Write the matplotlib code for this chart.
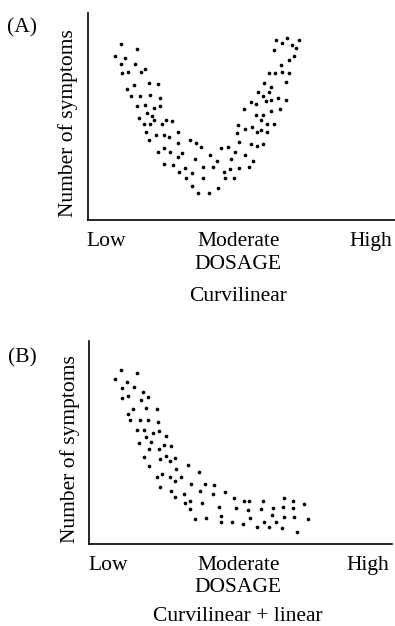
import matplotlib
matplotlib.use("Agg")
import matplotlib.pyplot as plt

plt.rcParams["font.family"] = ["Liberation Serif", "DejaVu Serif"]

# Dosage level (0-100) and number of symptoms (0-100) for each observation
dose_a = [10.9, 16.0, 9.0, 12.2, 11.0, 15.5, 18.6, 11.1, 13.3, 17.3,
          19.9, 23.0, 15.1, 12.7, 14.2, 17.0, 20.3, 23.7, 16.1, 18.6,
          21.6, 23.5, 19.4, 20.9, 16.8, 21.7, 25.4, 27.4, 18.5, 20.3,
          24.1, 19.0, 22.3, 24.8, 26.5, 29.3, 20.1, 29.3, 33.4, 35.4,
          36.9, 24.9, 22.8, 26.8, 30.6, 29.3, 39.7, 35.1, 24.8, 27.8,
          31.6, 37.6, 29.7, 33.9, 32.1, 37.7, 33.9, 35.9, 39.4,
          61.3, 63.3, 64.9, 68.7, 66.4, 67.9, 60.6, 67.1, 65.5, 62.9,
          59.1, 61.0, 63.3, 65.6, 64.7, 57.3, 59.8, 55.4, 58.9, 57.2,
          62.0, 64.6, 53.2, 54.7, 58.0, 59.8, 51.0, 62.6, 54.7, 57.2,
          59.6, 56.5, 48.8, 58.5, 60.7, 51.3, 53.5, 56.4, 48.6, 55.0,
          58.3, 49.3, 53.2, 55.0, 57.2, 43.5, 45.6, 47.9, 51.2, 46.7,
          42.2, 53.7, 40.9, 44.4, 46.2, 49.2, 52.5, 44.7, 47.6, 42.4]
symptoms_a = [84.9, 82.6, 79.2, 78.3, 75.4, 75.2, 72.8, 71.2, 71.6, 71.4,
              66.3, 65.6, 65.2, 63.1, 59.8, 60.0, 60.4, 58.9, 55.2, 55.6,
              54.0, 55.2, 51.8, 50.2, 49.4, 48.3, 48.5, 48.0, 46.2, 46.2,
              46.2, 42.7, 40.9, 40.9, 40.2, 42.5, 38.6, 37.3, 38.8, 37.3,
              35.1, 34.6, 32.9, 32.9, 32.2, 30.6, 31.3, 29.6, 27.1, 26.6,
              25.3, 25.7, 23.2, 22.9, 20.1, 20.4, 16.4, 12.9, 13.0,
              87.0, 85.7, 87.9, 86.8, 84.4, 82.9, 82.3, 79.1, 77.4, 75.0,
              71.2, 71.2, 71.5, 71.0, 66.8, 66.0, 64.4, 62.0, 61.8, 60.0,
              58.9, 58.1, 57.0, 55.9, 57.5, 57.8, 53.5, 53.6, 50.7, 50.9,
              52.7, 48.2, 46.0, 46.4, 46.2, 44.1, 45.1, 43.6, 42.0, 42.7,
              42.5, 37.5, 36.9, 35.6, 36.9, 34.8, 35.1, 32.7, 31.5, 29.5,
              28.5, 28.5, 25.7, 23.3, 24.5, 25.3, 25.7, 20.4, 20.4, 15.6]

dose_b = [10.5, 15.7, 8.5, 12.4, 10.8, 14.7, 17.7, 10.8, 12.8, 17.2,
          19.5, 14.5, 18.8, 22.4, 12.7, 13.5, 16.9, 19.4, 22.7, 15.8,
          18.1, 21.1, 23.0, 18.6, 25.4, 20.4, 16.5, 24.8, 27.0, 19.8,
          23.1, 18.0, 25.3, 23.4, 28.2, 26.8, 32.7, 19.8, 28.7, 36.3,
          23.9, 22.4, 26.6, 30.3, 28.2, 38.3, 33.7, 23.3, 27.0, 36.7,
          31.2, 28.4, 33.2, 31.5, 37.1, 33.4, 35.0, 38.5,
          41.3, 41.0, 44.7, 47.7, 51.0, 52.9, 57.5, 64.4, 67.4, 71.0,
          42.8, 48.4, 52.3, 56.8, 60.7, 63.9, 67.3, 60.3, 43.4, 43.6,
          47.2, 50.7, 53.1, 57.6, 61.7, 64.4, 67.6, 72.2, 55.4, 59.3,
          63.8, 68.7]
symptoms_b = [85.9, 84.1, 81.1, 79.8, 76.8, 77.2, 74.9, 72.1, 73.1, 71.1,
              72.4, 66.4, 66.8, 66.5, 64.0, 61.1, 60.9, 61.1, 60.2, 56.2,
              56.2, 54.8, 55.5, 52.6, 53.1, 50.2, 49.6, 48.6, 48.3, 46.9,
              46.8, 43.0, 43.2, 41.7, 42.4, 41.0, 38.9, 38.4, 37.1, 35.3,
              34.6, 33.2, 33.0, 33.0, 31.0, 29.7, 29.6, 27.9, 26.3, 26.0,
              24.5, 23.3, 21.3, 20.0, 20.0, 17.1, 12.5, 12.8,
              29.1, 24.8, 25.8, 22.5, 21.0, 21.2, 21.2, 22.5, 21.2, 19.6,
              18.4, 17.7, 16.7, 17.4, 17.9, 18.2, 17.7, 14.4, 13.6, 11.0,
              11.0, 9.9, 12.8, 11.0, 11.0, 13.2, 13.2, 12.2, 8.5, 8.5,
              7.9, 5.9]

dose_ticks = [6.2, 49.3, 92.0]
dose_labels = ["Low", "Moderate", "High"]

panels = [
    ("(A)", "Curvilinear", dose_a, symptoms_a,
     [87.5 / 395, 1 - 220 / 626, 307.5 / 395, 207 / 626], -0.213, 0.93, -0.37),
    ("(B)", "Curvilinear + linear", dose_b, symptoms_b,
     [89.3 / 395, 1 - 544 / 626, 302.7 / 395, 203 / 626], -0.222, 0.915, -0.355),
]

fig = plt.figure(figsize=(3.95, 6.26), dpi=100)
fs = 15.5

for tag, caption, xs, ys, rect, tag_x, tag_y, cap_y in panels:
    ax = fig.add_axes(rect)
    ax.scatter(xs, ys, s=7, color="black", linewidths=0)
    ax.set_xlim(0, 100)
    ax.set_ylim(0, 100)
    for side in ("top", "right"):
        ax.spines[side].set_visible(False)
    for side in ("left", "bottom"):
        ax.spines[side].set_linewidth(1.2)
    ax.set_yticks([])
    ax.set_xticks(dose_ticks)
    ax.set_xticklabels(dose_labels, fontsize=fs)
    ax.tick_params(axis="x", length=0, pad=8.5)
    ax.set_ylabel("Number of symptoms", fontsize=fs)
    ax.yaxis.set_label_coords(-0.03, 0.47)
    ax.text(0.49, -0.214, "DOSAGE", transform=ax.transAxes,
            ha="center", va="center", fontsize=fs)
    ax.text(0.49, cap_y, caption, transform=ax.transAxes,
            ha="center", va="center", fontsize=fs)
    ax.text(tag_x, tag_y, tag, transform=ax.transAxes,
            ha="center", va="center", fontsize=fs)

fig.savefig("out.png", dpi=100)
